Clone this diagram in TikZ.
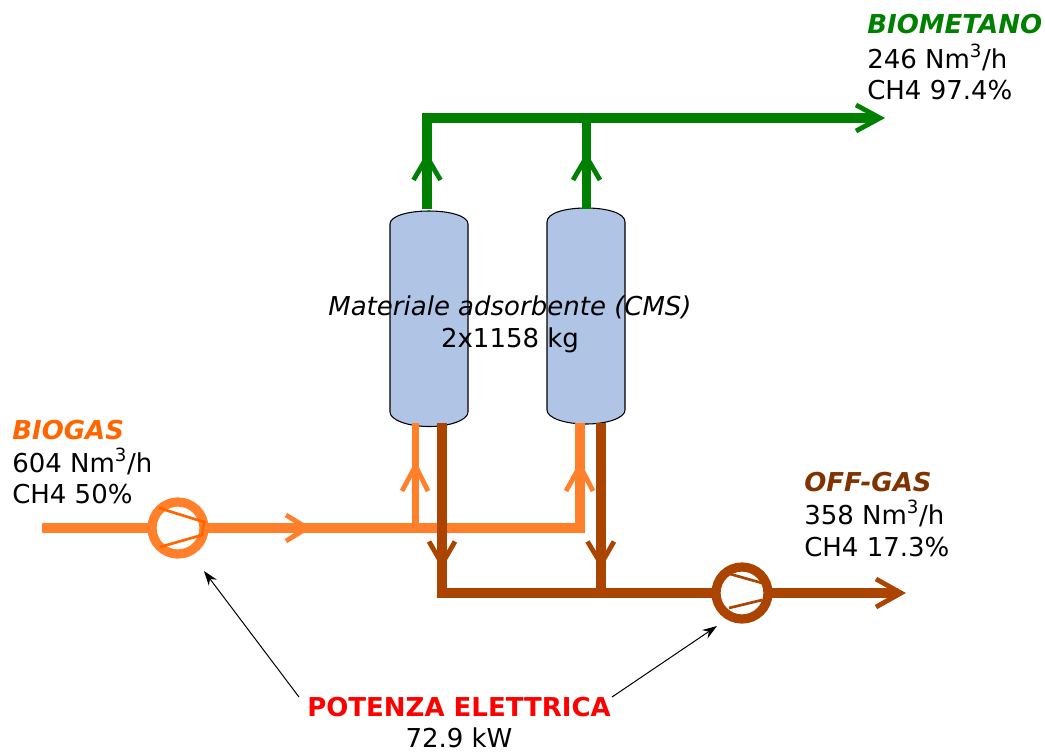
\documentclass[tikz,border=0pt]{standalone}
\usepackage{fontspec}
\setmainfont{DejaVu Sans}
\usetikzlibrary{arrows.meta}
\definecolor{gr}{HTML}{008000}
\definecolor{org}{HTML}{FF7F2A}
\definecolor{orgd}{HTML}{FF6600}
\definecolor{brn}{HTML}{AA4400}
\definecolor{brnd}{HTML}{803300}
\definecolor{ves}{HTML}{B0C4E6}
\tikzset{
  x=0.75pt,y=-0.75pt,
  pipe/.style={line width=7pt,line join=miter},
  thin pipe/.style={line width=5.4pt},
  chev/.style={line width=3.6pt,line join=miter,line cap=butt},
  vessel/.style={draw=black,line width=0.8pt,fill=ves},
  lab/.style={anchor=base west,inner sep=0pt,font=\fontsize{19.5}{24}\selectfont},
  clab/.style={anchor=base,inner sep=0pt,font=\fontsize{19.5}{24}\selectfont},
  pumpring/.style={circle,draw,fill=white,line width=6.9pt,minimum size=39pt,inner sep=0pt},
  pointer/.style={draw=black,line width=0.75pt,-{Stealth[length=11pt,width=7.5pt]}},
}
\begin{document}
\begin{tikzpicture}
\useasboundingbox (0,0) rectangle (1045,751);
% vessels
\path[vessel] (390,224) .. controls (390,216) and (408,211) .. (429,211) .. controls (450,211) and (468,216) .. (468,224) -- (468,412) .. controls (468,420) and (450,426.5) .. (429,426.5) .. controls (408,426.5) and (390,420) .. (390,412) -- cycle;
\path[vessel] (547,222) .. controls (547,213) and (565,208) .. (586,208) .. controls (607,208) and (625,213) .. (625,222) -- (625,410) .. controls (625,418) and (607,424) .. (586,424) .. controls (565,424) and (547,418) .. (547,410) -- cycle;
% named points
\coordinate (bioIn) at (42,528);
\coordinate (p1c) at (178,528);
\coordinate (p2c) at (742,593);
\coordinate (jL) at (415.5,528);
\coordinate (jR) at (580,528);
\coordinate (vLinB) at (415.5,423);
\coordinate (vRinB) at (580,423);
\coordinate (vLoutB) at (442,423);
\coordinate (vRoutB) at (601,423);
\coordinate (cL) at (442,593);
\coordinate (cR) at (601,593);
\coordinate (offOut) at (898,593);
\coordinate (gL) at (427,118);
\coordinate (gR) at (586.5,118);
\coordinate (vLt) at (427,209);
\coordinate (vRt) at (586.5,209);
\coordinate (bioOut) at (876,118);
% biogas
\draw[pipe,org] (bioIn) -- (p1c) -- (jR) -- (vRinB);
\draw[thin pipe,org] (jL) -- (vLinB);
\draw[chev,org] (286,515) -- (307,528) -- (286,541);
\draw[chev,org] (402,491) -- (415.5,466) -- (428,491);
\draw[chev,org] (566,491) -- (580,466) -- (593,491);
% off-gas
\draw[pipe,brn] (vLoutB) -- (cL) -- (offOut);
\draw[pipe,brn] (vRoutB) -- (cR);
\draw[chev,brn] (429,541.5) -- (442,564) -- (455,541.5);
\draw[chev,brn] (587.5,541.5) -- (601,564) -- (614,541.5);
\draw[chev,brn] (876,579) -- (901,593) -- (876,607);
% pumps
\node[pumpring,draw=org] (p1) at (p1c) {};
\node[pumpring,draw=brn] (p2) at (p2c) {};
\draw[line width=2pt,orgd,line join=miter] (159,508) -- (204,522) -- (202,535) -- (160,547);
\draw[line width=2pt,brn] (730,574) -- (762,583);
\draw[line width=2pt,brn] (729,608) -- (762,600);
% biomethane
\draw[pipe,gr] (vLt) -- (gL) -- (bioOut);
\draw[pipe,gr] (vRt) -- (gR);
\draw[chev,gr] (413.5,180) -- (427,157) -- (440.5,180);
\draw[chev,gr] (573,180) -- (586.5,157) -- (600,180);
\draw[chev,gr] (856,105) -- (880,118) -- (856,131);
% labels
\node[lab,gr] (t1) at (867,33) {\textbf{\textit{BIOMETANO}}};
\node[lab] (t2) at (867,68) {246 Nm\textsuperscript{3}/h};
\node[lab] (t3) at (867,99) {CH4 97.4\%};
\node[lab,orgd] (t4) at (12,439) {\textbf{\textit{BIOGAS}}};
\node[lab] (t5) at (12,472) {604 Nm\textsuperscript{3}/h};
\node[lab] (t6) at (12,503) {CH4 50\%};
\node[lab,brnd] (t7) at (804,491) {\textbf{\textit{OFF-GAS}}};
\node[lab] (t8) at (804,524) {358 Nm\textsuperscript{3}/h};
\node[lab] (t9) at (804,556) {CH4 17.3\%};
\node[clab] (t10) at (510,315) {\textit{Materiale adsorbente (CMS)}};
\node[clab] (t11) at (510,347) {2x1158 kg};
\node[clab,red] (t12) at (459,716) {\textbf{POTENZA ELETTRICA}};
\node[clab] (t13) at (459,747) {72.9 kW};
% pointers
\coordinate (a1) at (299,697);
\coordinate (a2) at (612,697);
\coordinate (h1) at (204,571);
\coordinate (h2) at (717,626);
\draw[pointer] (a1) -- (h1);
\draw[pointer] (a2) -- (h2);
\end{tikzpicture}
\end{document}
